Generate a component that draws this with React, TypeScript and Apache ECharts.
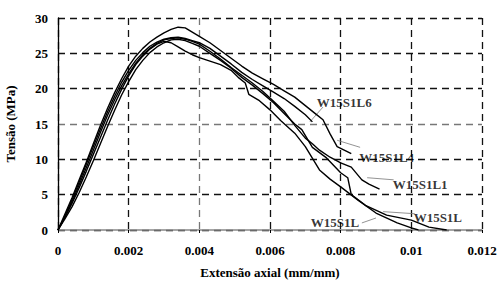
import React, { useEffect, useRef } from "react";
import * as echarts from "echarts";

const xTicks = [0, 0.002, 0.004, 0.006, 0.008, 0.01, 0.012];
const yTicks = [0, 5, 10, 15, 20, 25, 30];

const curveL4: [number, number][] = [[0,0],[0.0002,2.3],[0.0004,4.6],[0.0006,7.1],[0.0008,9.6],[0.001,12.2],[0.0012,14.8],[0.0014,17.2],[0.0016,19.4],[0.0018,21.4],[0.002,23.2],[0.0022,24.6],[0.0024,25.7],[0.0026,26.6],[0.0028,27.3],[0.003,27.9],[0.0032,28.4],[0.0034,28.7],[0.0036,28.6],[0.0038,28.0],[0.004,27.4],[0.0043,26.5],[0.0046,25.4],[0.0049,24.3],[0.0052,23.2],[0.0055,22.2],[0.0058,21.4],[0.0061,20.6],[0.0064,19.7],[0.0067,18.8],[0.007,17.6],[0.0073,16.4],[0.0075,15.6],[0.0077,13.6],[0.0079,11.8],[0.0081,11.3],[0.0083,10.8]];
const curveL6: [number, number][] = [[0,0],[0.0002,2.0],[0.0004,4.3],[0.0006,6.8],[0.0008,9.3],[0.001,11.8],[0.0012,14.3],[0.0014,16.7],[0.0016,18.9],[0.0018,20.9],[0.002,22.6],[0.0022,24.0],[0.0024,25.1],[0.0026,26.0],[0.0028,26.6],[0.003,27.0],[0.0032,27.2],[0.0034,27.3],[0.0036,27.1],[0.0038,26.8],[0.004,26.5],[0.0043,25.7],[0.0046,24.6],[0.0049,23.5],[0.0052,22.3],[0.0055,21.3],[0.0058,20.4],[0.0061,19.5],[0.0064,18.6],[0.0067,17.5],[0.007,16.3],[0.0072,15.3]];
const curveL1: [number, number][] = [[0,0],[0.0002,1.9],[0.0004,4.0],[0.0006,6.4],[0.0008,8.8],[0.001,11.3],[0.0012,13.8],[0.0014,16.2],[0.0016,18.4],[0.0018,20.4],[0.002,22.1],[0.0022,23.6],[0.0024,24.8],[0.0026,25.7],[0.0028,26.4],[0.003,26.9],[0.0032,27.1],[0.0034,27.2],[0.0036,27.0],[0.0038,26.7],[0.004,26.3],[0.0043,25.3],[0.0046,24.2],[0.0049,23.0],[0.0052,21.9],[0.0055,20.8],[0.0058,19.6],[0.0061,18.2],[0.0064,16.8],[0.0067,14.8],[0.007,13.0],[0.0072,12.2],[0.0074,11.3],[0.0077,10.3],[0.008,9.5],[0.0083,8.9],[0.0086,7.1],[0.0088,6.5],[0.0091,5.8]];
const curveLa: [number, number][] = [[0,0],[0.0002,1.8],[0.0004,3.8],[0.0006,6.0],[0.0008,8.3],[0.001,10.7],[0.0012,13.1],[0.0014,15.5],[0.0016,17.8],[0.0018,19.9],[0.002,21.8],[0.0022,23.4],[0.0024,24.6],[0.0026,25.6],[0.0028,26.3],[0.003,26.7],[0.0032,26.5],[0.0034,25.9],[0.0036,25.3],[0.0038,24.8],[0.004,24.4],[0.0043,23.9],[0.0046,23.4],[0.0049,22.6],[0.0051,21.6],[0.0053,20.8],[0.0054,19.2],[0.0057,18.3],[0.006,17.0],[0.0063,15.5],[0.0067,13.7],[0.007,11.8],[0.0074,8.5],[0.0077,7.2],[0.008,6.1],[0.0085,4.2],[0.009,2.4],[0.0096,1.0],[0.01,0.3],[0.0102,0]];
const curveLb: [number, number][] = [[0,0],[0.0002,1.6],[0.0004,3.3],[0.0006,5.3],[0.0008,7.5],[0.001,9.8],[0.0012,12.2],[0.0014,14.6],[0.0016,16.9],[0.0018,19.1],[0.002,21.0],[0.0022,22.7],[0.0024,24.0],[0.0026,25.1],[0.0028,25.9],[0.003,26.5],[0.0032,26.9],[0.0034,27.0],[0.0036,26.8],[0.0038,26.4],[0.004,26.0],[0.0043,25.0],[0.0046,24.0],[0.0049,22.9],[0.0052,21.6],[0.0055,20.5],[0.0058,19.3],[0.0061,18.0],[0.0064,16.5],[0.0067,15.0],[0.0069,14.2],[0.0072,11.7],[0.0076,10.2],[0.008,8.1],[0.0082,7.4],[0.0083,5.0],[0.0087,3.5],[0.0093,2.1],[0.01,1.4],[0.0105,0.4],[0.011,0]];

const labelNames = ["W15S1L6", "W15S1L4", "W15S1L1", "W15S1L", "W15S1L"];
const labelPos: [number, number][] = [[0.0081, 18.0], [0.0093, 10.2], [0.01025, 6.4], [0.01075, 1.8], [0.00784, 1.1]];
const leaderStart: [number, number][] = [[0.0075, 17.4], [0.00855, 11.7], [0.0095, 7.1], [0.0101, 2.3], [0.0086, 1.0]];
const leaderEnd: [number, number][] = [[0.00713, 15.3], [0.0079, 12.7], [0.00875, 7.4], [0.0092, 2.6], [0.009, 1.7]];

const FONT = "'Liberation Serif', 'Times New Roman', serif";

export default function App() {
  const ref = useRef<HTMLDivElement>(null);
  useEffect(() => {
    if (!ref.current) return;
    const chart = echarts.init(ref.current, null, { renderer: "svg" });
    const curves = [curveL4, curveL6, curveL1, curveLa, curveLb];
    const series: any[] = curves.map((c) => ({
      type: "line",
      data: c,
      showSymbol: false,
      symbol: "none",
      lineStyle: { color: "#000", width: 1.4 },
      z: 3,
    }));
    leaderStart.forEach((s, i) => {
      series.push({
        type: "line",
        data: [s, leaderEnd[i]],
        symbol: "none",
        lineStyle: { color: "#777", width: 0.8 },
        z: 2,
      });
    });
    series.push({
      type: "scatter",
      symbolSize: 0,
      data: labelPos.map((p, i) => ({ value: p, name: labelNames[i] })),
      label: {
        show: true,
        position: "inside",
        formatter: (p: any) => p.name,
        color: "#000",
        fontFamily: FONT,
        fontWeight: "bold",
        fontSize: 13,
      },
      z: 4,
    });
    const xGridColors = ["#111", "#111", "#777", "#111", "#111", "#111", "#111"];
    const yGridColors = ["#111", "#111", "#111", "#777", "#111", "#111", "#111"];
    chart.setOption({
      animation: false,
      grid: { left: 58, right: 17, top: 18, bottom: 52, containLabel: false, outerBoundsMode: "none" },
      xAxis: {
        type: "value",
        min: 0,
        max: 0.012,
        interval: 0.002,
        name: "Extensão axial (mm/mm)",
        nameLocation: "middle",
        nameGap: 36,
        nameTextStyle: { fontFamily: FONT, fontWeight: "bold", fontSize: 13, color: "#000" },
        axisLine: { lineStyle: { color: "#888", width: 1.5 } },
        axisTick: { show: true, length: 3, lineStyle: { color: "#000" } },
        axisLabel: {
          margin: 14,
          fontFamily: FONT,
          fontWeight: "bold",
          fontSize: 13,
          color: "#000",
          formatter: (v: number) => {
            const t = xTicks.find((x) => Math.abs(x - v) < 1e-9);
            return t === undefined ? "" : String(parseFloat(t.toFixed(4)));
          },
        },
        splitLine: { show: true, lineStyle: { color: xGridColors, type: [7, 5], width: 1.3 } },
      },
      yAxis: {
        type: "value",
        min: 0,
        max: 30,
        interval: 5,
        name: "Tensão (MPa)",
        nameLocation: "middle",
        nameGap: 41,
        nameTextStyle: { fontFamily: FONT, fontWeight: "bold", fontSize: 13, color: "#000" },
        axisLine: { show: true, lineStyle: { color: "#000", width: 1.3 } },
        axisTick: { show: false },
        axisLabel: {
          margin: 10,
          fontFamily: FONT,
          fontWeight: "bold",
          fontSize: 13,
          color: "#000",
          formatter: (v: number) => (yTicks.includes(v) ? String(v) : ""),
        },
        splitLine: { show: true, lineStyle: { color: yGridColors, type: [7, 5], width: 1.3 } },
      },
      series,
    });
    return () => chart.dispose();
  }, []);
  return <div ref={ref} style={{ width: 499, height: 282, position: "absolute", left: 0, top: 0 }} />;
}
